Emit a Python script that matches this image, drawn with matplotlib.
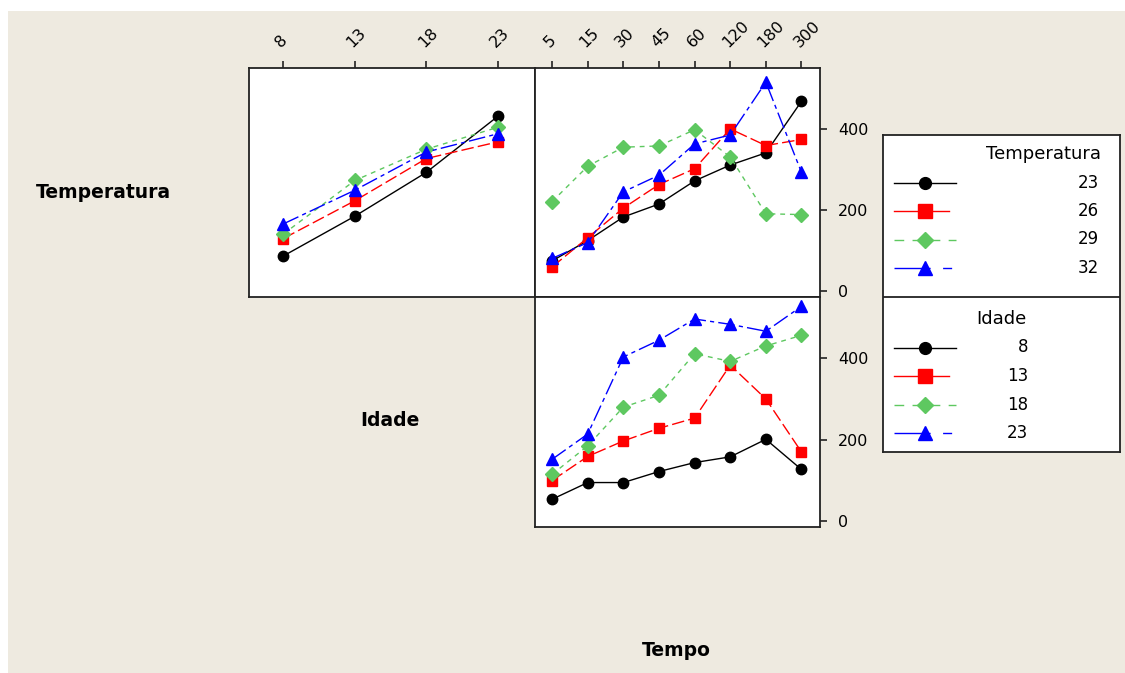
import numpy as np
import matplotlib.pyplot as plt
from matplotlib.lines import Line2D

plt.rcParams['font.family'] = ['DejaVu Sans']

# factor levels
idade = ['8', '13', '18', '23']
temperatura = ['23', '26', '29', '32']
tempo = ['5', '15', '30', '45', '60', '120', '180', '300']

# mean response: Temperatura (lines) x Idade (x axis)
temp_by_idade = {
    '23': [87, 185, 293, 431],
    '26': [130, 223, 327, 368],
    '29': [141, 273, 350, 404],
    '32': [166, 249, 343, 388],
}

# mean response: Temperatura (lines) x Tempo (x axis)
temp_by_tempo = {
    '23': [75, 125, 183, 215, 272, 311, 341, 468],
    '26': [60, 132, 205, 263, 302, 400, 359, 374],
    '29': [221, 308, 355, 358, 398, 331, 191, 189],
    '32': [81, 120, 245, 286, 363, 385, 515, 293],
}

# mean response: Idade (lines) x Tempo (x axis)
idade_by_tempo = {
    '8': [54, 95, 95, 122, 144, 158, 201, 127],
    '13': [100, 159, 197, 228, 253, 383, 300, 170],
    '18': [115, 185, 280, 309, 411, 392, 430, 456],
    '23': [152, 214, 403, 444, 496, 483, 466, 527],
}

W, H = 1125, 673
bg = '#eeeae0'
styles = [
    dict(color='black', marker='o', linestyle='-', ms=7.5),
    dict(color='#ff0000', marker='s', dashes=(9, 3), ms=7.5),
    dict(color='#5ec860', marker='D', dashes=(3.5, 3.5), ms=7),
    dict(color='#0000ff', marker='^', dashes=(12, 3, 3, 3), ms=8.5),
]
# legend samples: line end (px), dash pattern, marker size
leg_samples = [
    (956, None, 8.5),
    (949, None, 9.5),
    (956, (7, 6), 8.5),
    (953, (26, 9, 6.5, 30), 9.5),
]

fig = plt.figure(figsize=(W / 100, H / 100), dpi=100, facecolor='white')
# beige canvas with a thin white strip top and left
fig.patches.append(plt.Rectangle((8 / W, 0), 1, 1 - 11 / H, transform=fig.transFigure,
                                 facecolor=bg, edgecolor='none', zorder=-10))


def px_axes(x0, y0, x1, y1):
    return fig.add_axes([x0 / W, 1 - y1 / H, (x1 - x0) / W, (y1 - y0) / H])


def style_panel(ax, n):
    ax.set_facecolor('white')
    ax.set_xlim(-0.48, n - 0.48)
    ax.set_ylim(-14, 550)
    for s in ax.spines.values():
        s.set_color('#222222')
        s.set_linewidth(1.3)
    ax.tick_params(length=5, width=1.2, color='#222222', labelsize=11.5)


def draw(ax, series):
    for st, (k, vals) in zip(styles, series.items()):
        ax.plot(np.arange(len(vals)), vals, lw=1.0, mec=st['color'], **st)


ax_tl = px_axes(249, 68, 535, 297)
ax_tr = px_axes(535, 68, 820, 297)
ax_br = px_axes(535, 297, 820, 527)

style_panel(ax_tl, len(idade))
style_panel(ax_tr, len(tempo))
style_panel(ax_br, len(tempo))

draw(ax_tl, temp_by_idade)
draw(ax_tr, temp_by_tempo)
draw(ax_br, idade_by_tempo)

# top tick labels on the upper panels
for ax, labels in ((ax_tl, idade), (ax_tr, tempo)):
    ax.set_xticks(np.arange(len(labels)))
    ax.set_xticklabels(labels, rotation=45, ha='left', va='bottom', rotation_mode='anchor')
    ax.tick_params(axis='x', bottom=False, labelbottom=False, top=True, labeltop=True, pad=8)
ax_tl.set_yticks([])

ax_br.set_xticks([])
for ax in (ax_tr, ax_br):
    ax.set_yticks([0, 200, 400])
    ax.tick_params(axis='y', left=False, labelleft=False, right=True, labelright=True, pad=8)

fig.text(103 / W, 1 - 193 / H, 'Temperatura', ha='center', va='center',
         fontsize=13.5, fontweight='bold')
fig.text(390 / W, 1 - 420 / H, 'Idade', ha='center', va='center',
         fontsize=13.5, fontweight='bold')
fig.text(676 / W, 1 - 651 / H, 'Tempo', ha='center', va='center',
         fontsize=13.5, fontweight='bold')

# legend box, laid out in pixel units
lg = px_axes(883, 135, 1120, 452)
lg.set_xlim(883, 1120)
lg.set_ylim(452, 135)
lg.set_xticks([])
lg.set_yticks([])
lg.set_facecolor('white')
for s in lg.spines.values():
    s.set_color('#222222')
    s.set_linewidth(1.3)
lg.axhline(297, color='#222222', lw=1.3)


def legend_block(title, title_x, title_ha, labels, label_x, y0):
    lg.text(title_x, y0, title, ha=title_ha, va='center', fontsize=13)
    for i, (st, samp, lab) in enumerate(zip(styles, leg_samples, labels)):
        y = y0 + 28.5 * (i + 1)
        x_end, dash, msz = samp
        ln = Line2D([894, x_end], [y, y], lw=1.0, color=st['color'])
        if dash:
            ln.set_dashes(dash)
        lg.add_line(ln)
        lg.plot([925], [y], color=st['color'], marker=st['marker'], ms=msz, ls='none')
        lg.text(label_x, y, lab, ha='right', va='center', fontsize=12)


legend_block('Temperatura', 1101, 'right', temperatura, 1099, 154)
legend_block('Idade', 1001, 'center', idade, 1028, 319)

fig.savefig('out.png', dpi=100, facecolor=fig.get_facecolor())
